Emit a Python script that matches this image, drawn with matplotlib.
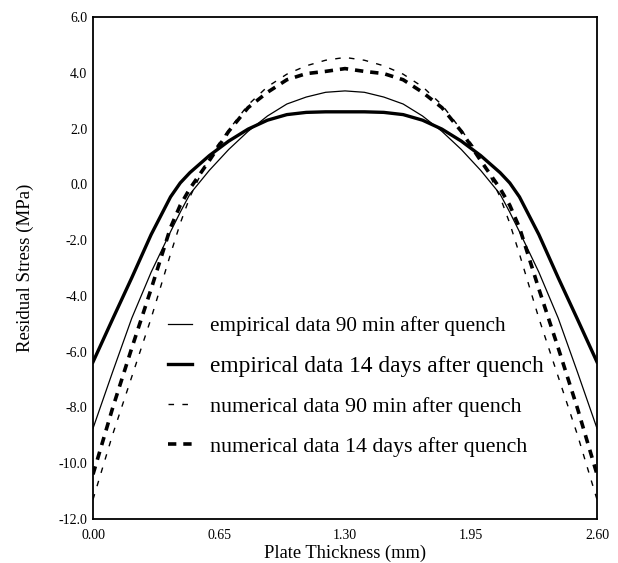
import matplotlib
matplotlib.use("Agg")
import matplotlib.pyplot as plt

plt.rcParams['font.family'] = ['Liberation Serif', 'DejaVu Serif']
plt.rcParams['lines.scale_dashes'] = False

# Plate thickness positions (mm)
thickness = [0.0, 0.1, 0.2, 0.3, 0.4, 0.45, 0.5, 0.6, 0.7, 0.8, 0.9, 1.0, 1.1, 1.2, 1.3,
             1.4, 1.5, 1.6, 1.7, 1.8, 1.9, 2.0, 2.1, 2.15, 2.2, 2.3, 2.4, 2.5, 2.6]

# Residual stress (MPa)
emp_90min = [-8.75, -6.75, -4.8, -3.15, -1.7, -1.0, -0.35, 0.5, 1.25, 1.9, 2.45, 2.88, 3.13, 3.3, 3.35,
             3.3, 3.13, 2.88, 2.45, 1.9, 1.25, 0.5, -0.35, -1.0, -1.7, -3.15, -4.8, -6.75, -8.75]
emp_14days = [-6.37, -4.85, -3.35, -1.8, -0.45, 0.05, 0.42, 1.03, 1.55, 1.98, 2.3, 2.5, 2.58, 2.6, 2.6,
              2.6, 2.58, 2.5, 2.3, 1.98, 1.55, 1.03, 0.42, 0.05, -0.45, -1.8, -3.35, -4.85, -6.37]
num_90min = [-11.3, -9.0, -6.9, -4.8, -2.5, -1.4, -0.45, 1.0, 1.95, 2.85, 3.5, 3.95, 4.25, 4.45, 4.55,
             4.45, 4.25, 3.95, 3.5, 2.85, 1.95, 1.0, -0.45, -1.4, -2.5, -4.8, -6.9, -9.0, -11.3]
num_14days = [-10.4, -8.05, -5.87, -3.75, -1.55, -0.75, -0.15, 0.85, 1.9, 2.75, 3.3, 3.75, 3.97, 4.05, 4.15,
              4.05, 3.97, 3.75, 3.3, 2.75, 1.9, 0.85, -0.15, -0.75, -1.55, -3.75, -5.87, -8.05, -10.4]

labels = ["empirical data 90 min after quench",
          "empirical data 14 days after quench",
          "numerical data 90 min after quench",
          "numerical data 14 days after quench"]

x_ticks = [0.00, 0.65, 1.30, 1.95, 2.60]
x_ticklabels = ["0.00", "0.65", "1.30", "1.95", "2.60"]
y_ticks = [-12, -10, -8, -6, -4, -2, 0, 2, 4, 6]
y_ticklabels = ["-12.0", "-10.0", "-8.0", "-6.0", "-4.0", "-2.0", "0.0", "2.0", "4.0", "6.0"]

fig = plt.figure(figsize=(6.18, 5.63), dpi=100)
ax = fig.add_axes([93/618, 1 - 519/563, (597-93)/618, (519-17)/563])

ax.plot(thickness, emp_90min, color='black', lw=0.9, label=labels[0])
ax.plot(thickness, emp_14days, color='black', lw=2.4, label=labels[1])
ax.plot(thickness, num_90min, color='black', lw=1.0, dashes=(4, 6), label=labels[2])
ax.plot(thickness, num_14days, color='black', lw=2.6, dashes=(6, 5), label=labels[3])

ax.set_xlim(0, 2.6)
ax.set_ylim(-12, 6)
ax.set_xticks(x_ticks)
ax.set_xticklabels(x_ticklabels)
ax.set_yticks(y_ticks)
ax.set_yticklabels(y_ticklabels)
ax.tick_params(axis='x', length=0, labelsize=10, pad=7)
ax.tick_params(axis='y', length=0, labelsize=10, pad=4)
for s in ax.spines.values():
    s.set_linewidth(1.3)

ax.set_xlabel("Plate Thickness (mm)", fontsize=13.3, labelpad=2)
ax.set_ylabel("Residual Stress (MPa)", fontsize=13.6, labelpad=18)

leg = ax.legend(loc='center left', bbox_to_anchor=((168-93)/504, (519-386.5)/502),
                frameon=False, fontsize=15.8, handlelength=1.1, handletextpad=0.82,
                labelspacing=0.9, borderaxespad=0, borderpad=0)
for t, fs in zip(leg.get_texts(), [15.2, 16.8, 15.8, 15.8]):
    t.set_fontsize(fs)

fig.savefig("out.png", dpi=100)
